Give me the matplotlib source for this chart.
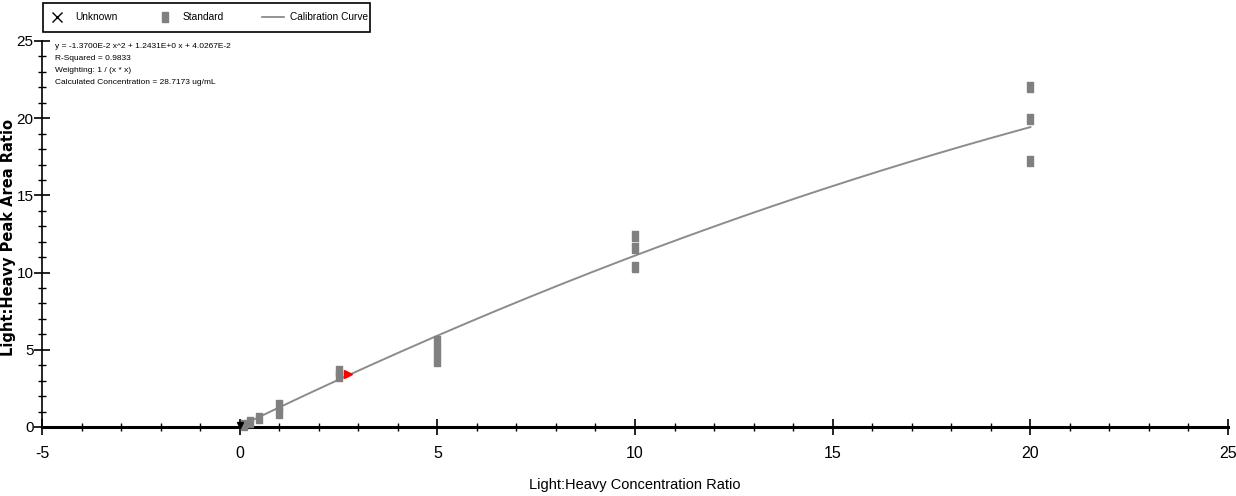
import numpy as np
import matplotlib
matplotlib.use("Agg")
import matplotlib.pyplot as plt
from matplotlib.lines import Line2D
from matplotlib.patches import Rectangle
from matplotlib.ticker import MultipleLocator

plt.rcParams["axes.unicode_minus"] = False
SANS = ["Liberation Sans", "DejaVu Sans"]

# Standards: concentration ratio vs measured peak area ratio
std_x = [0.1, 0.25, 0.5, 1, 1, 2.5, 2.5, 5, 5, 5, 10, 10, 10, 20, 20, 20]
std_y = [0.1, 0.3, 0.6, 0.9, 1.4, 3.3, 3.6, 4.3, 4.95, 5.6, 10.36, 11.57, 12.37, 17.2, 19.95, 22.04]

# Unknown sample
unk_x = [2.75]
unk_y = [3.43]

# Quadratic fit coefficients (a x^2 + b x + c)
coef_a, coef_b, coef_c = -1.3700E-2, 1.2431E+0, 4.0267E-2
fit_x_range = [0.1, 20]

fit_info = [
    "y = -1.3700E-2 x^2 + 1.2431E+0 x + 4.0267E-2",
    "R-Squared = 0.9833",
    "Weighting: 1 / (x * x)",
    "Calculated Concentration = 28.7173 ug/mL",
]

W, H = 1236, 496
fig = plt.figure(figsize=(W / 100, H / 100), dpi=100)
ax = fig.add_axes([42 / W, 1 - 427 / H, (1228 - 42) / W, (427 - 41) / H])

# calibration curve
cx = np.linspace(fit_x_range[0], fit_x_range[1], 200)
cy = coef_a * cx ** 2 + coef_b * cx + coef_c
ax.plot(cx, cy, color="#8c8c8c", lw=1.4, zorder=2)

# tall grey rectangles for the standards
rect = [(-0.3, -0.5), (0.3, -0.5), (0.3, 0.5), (-0.3, 0.5), (-0.3, -0.5)]
ax.plot(std_x, std_y, ls="none", marker=rect, ms=7.5, color="#808080",
        mec="#808080", zorder=3, clip_on=False)

ax.plot(unk_x, unk_y, ls="none", marker=">", ms=6, color="red", zorder=4)
ax.plot([0.0], [0.12], ls="none", marker="v", ms=5, color="black", zorder=4,
        clip_on=False)

ax.set_xlim(-5, 25)
ax.set_ylim(0, 25)
ax.xaxis.set_major_locator(MultipleLocator(5))
ax.xaxis.set_minor_locator(MultipleLocator(1))
ax.yaxis.set_major_locator(MultipleLocator(5))
ax.yaxis.set_minor_locator(MultipleLocator(1))
ax.tick_params(which="major", direction="inout", length=12, width=1.2,
               labelsize=11.5)
ax.tick_params(which="minor", direction="inout", length=6, width=1)
ax.tick_params(axis="x", which="major", pad=8)
ax.tick_params(axis="y", which="major", pad=0, labelsize=11)
for lbl in ax.get_xticklabels() + ax.get_yticklabels():
    lbl.set_family(SANS)

for side in ["top", "right"]:
    ax.spines[side].set_visible(False)
ax.spines["bottom"].set_linewidth(2.2)
ax.spines["left"].set_linewidth(1.2)
ax.patch.set_visible(False)

ax.set_xlabel("Light:Heavy Concentration Ratio", family=SANS, fontsize=10.5,
              labelpad=12)
fig.text(9 / W, 1 - 237 / H, "Light:Heavy Peak Area Ratio", rotation=90,
         fontsize=10.5, fontweight="bold", family="DejaVu Sans",
         ha="center", va="center")

for i, line in enumerate(fit_info):
    fig.text(55 / W, 1 - (47 + i * 12) / H, line, family=SANS, fontsize=6,
             va="center", ha="left")

# legend strip across the top
fig.add_artist(Rectangle((43 / W, 1 - 32 / H), 327 / W, 29 / H,
                         transform=fig.transFigure, fill=False,
                         edgecolor="black", lw=1.2))
ly = 1 - 17 / H
fig.add_artist(Line2D([57 / W], [ly], transform=fig.transFigure, ls="none",
                      marker="x", ms=7, mew=1, color="black"))
fig.add_artist(Line2D([165 / W], [ly], transform=fig.transFigure, ls="none",
                      marker=rect, ms=7.5, color="#808080"))
fig.add_artist(Line2D([262 / W, 284 / W], [ly, ly], transform=fig.transFigure,
                      color="#808080", lw=1.2))
for x0, txt in [(75, "Unknown"), (183, "Standard"), (290, "Calibration Curve")]:
    fig.text(x0 / W, ly, txt, family=SANS, fontsize=7.3, va="center", ha="left")

fig.savefig("out.png", dpi=100)
